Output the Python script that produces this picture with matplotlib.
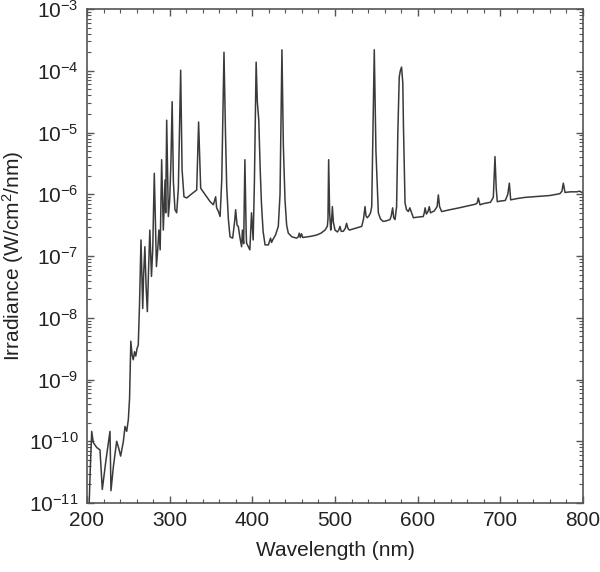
import numpy as np
import matplotlib
matplotlib.use('Agg')
import matplotlib.pyplot as plt
from matplotlib.ticker import LogLocator, MultipleLocator, FixedLocator

plt.rcParams['font.family'] = ['Liberation Sans', 'DejaVu Sans']
plt.rcParams['mathtext.fontset'] = 'custom'
plt.rcParams['mathtext.rm'] = 'Liberation Sans'
plt.rcParams['mathtext.it'] = 'Liberation Sans:italic'

# spectrum: wavelength (nm), log10 irradiance (W/cm2/nm)
wavelength = [
    202.0, 203.8, 205.7, 207.6, 211.7, 215.7, 218.5, 223.0, 227.8, 229.0,
    232.0, 235.9, 238.5, 240.7, 244.0, 246.0, 248.0, 250.0, 251.5, 253.0,
    254.5, 256.0, 257.5, 259.0, 260.5, 262.0, 263.5, 265.3, 267.4, 268.5,
    270.0, 271.5, 273.0, 274.5, 276.0, 278.0, 279.5, 281.4, 283.0, 284.0,
    285.5, 287.0, 288.5, 290.3, 292.3, 294.4, 295.2, 296.4, 298.4, 300.0,
    301.5, 303.0, 304.5, 306.4, 308.5, 310.5, 313.3, 315.0, 317.3, 320.6,
    326.0, 332.7, 335.0, 337.5, 340.0, 344.7, 349.0, 352.8, 355.6, 356.8,
    359.0, 361.0, 363.0, 365.7, 367.5, 369.0, 371.0, 373.0, 376.2, 378.5,
    379.8, 381.5, 383.0, 385.0, 387.0, 388.0, 389.5, 391.0, 392.5, 393.0,
    396.0, 397.0, 399.0, 401.0, 402.5, 404.6, 406.0, 407.8, 409.5, 411.0,
    413.0, 415.4, 419.4, 422.0, 423.3, 424.6, 428.0, 431.4, 433.5, 435.8,
    437.5, 439.5, 441.5, 443.5, 448.0, 453.6, 455.5, 456.8, 458.0, 459.5,
    461.0, 465.7, 471.0, 477.8, 483.0, 487.9, 490.7, 491.5, 492.3, 493.5,
    494.8, 495.8, 496.8, 498.0, 500.0, 502.8, 504.5, 506.0, 507.5, 510.0,
    512.5, 514.0, 515.5, 517.3, 525.0, 532.3, 534.5, 536.3, 537.5, 539.0,
    541.0, 543.0, 544.4, 547.5, 549.5, 552.4, 555.0, 558.4, 562.0, 566.5,
    568.0, 569.7, 571.0, 572.6, 574.5, 576.0, 577.7, 579.0, 580.5, 582.0,
    582.8, 584.7, 586.5, 588.7, 590.5, 592.7, 594.8, 600.0, 606.8, 608.0,
    609.0, 610.5, 612.5, 614.0, 615.5, 620.0, 623.5, 625.0, 626.5, 629.0,
    639.0, 650.0, 660.0, 670.0, 672.0, 673.3, 674.5, 675.4, 680.0, 688.0,
    691.5, 693.5, 695.0, 696.3, 700.0, 706.0, 709.0, 710.9, 712.5, 720.0,
    730.0, 740.0, 750.0, 760.0, 764.0, 772.0, 774.5, 776.2, 778.2, 785.0,
    792.3, 796.0, 800.0,
]
log_irradiance = [
    -11.3, -10.5, -9.84, -10.02, -10.10, -10.14, -10.78, -10.3, -9.84, -10.80,
    -10.4, -10.0, -10.12, -10.24, -10.0, -9.76, -9.84, -9.65, -9.3, -8.38,
    -8.6, -8.68, -8.55, -8.62, -8.50, -8.44, -7.8, -6.74, -7.85, -7.3,
    -6.85, -7.5, -7.90, -7.2, -6.58, -7.33, -6.9, -5.66, -6.6, -7.17,
    -6.9, -6.58, -6.9, -5.44, -6.58, -5.77, -6.3, -4.80, -6.36, -6.1,
    -5.5, -4.50, -5.8, -6.25, -6.3, -5.9, -3.99, -5.6, -6.04, -6.06,
    -6.0, -5.93, -4.83, -5.90, -5.95, -6.04, -6.12, -6.17, -6.04, -6.22,
    -6.28, -6.36, -5.77, -3.70, -5.0, -5.88, -6.4, -6.69, -6.71, -6.45,
    -6.25, -6.5, -6.52, -6.7, -6.85, -6.58, -6.8, -5.44, -6.6, -6.79,
    -6.87, -6.9, -6.30, -6.74, -5.8, -3.86, -4.5, -4.8, -5.6, -6.14,
    -6.6, -6.82, -6.82, -6.71, -6.78, -6.74, -6.66, -6.52, -6.0, -3.66,
    -5.2, -6.09, -6.5, -6.63, -6.69, -6.71, -6.69, -6.63, -6.70, -6.64,
    -6.70, -6.69, -6.68, -6.66, -6.63, -6.58, -6.52, -6.4, -5.44, -6.3,
    -6.58, -6.45, -6.20, -6.45, -6.58, -6.61, -6.58, -6.52, -6.6, -6.60,
    -6.55, -6.47, -6.55, -6.58, -6.55, -6.52, -6.4, -6.20, -6.35, -6.38,
    -6.35, -6.3, -6.20, -3.66, -5.3, -6.30, -6.4, -6.44, -6.43, -6.41,
    -6.35, -6.22, -6.38, -6.41, -6.2, -5.0, -4.10, -4.0, -3.94, -4.2,
    -4.9, -6.14, -6.25, -6.28, -6.22, -6.30, -6.38, -6.37, -6.36, -6.30,
    -6.22, -6.32, -6.28, -6.20, -6.30, -6.27, -6.20, -6.01, -6.20, -6.28,
    -6.25, -6.22, -6.19, -6.16, -6.14, -6.06, -6.12, -6.17, -6.15, -6.13,
    -6.05, -5.39, -5.9, -6.12, -6.11, -6.10, -6.0, -5.82, -6.09, -6.07,
    -6.05, -6.04, -6.03, -6.02, -6.01, -5.99, -5.95, -5.82, -5.97, -5.96,
    -5.96, -5.95, -5.98,
]

x_ticks = [200, 300, 400, 500, 600, 700, 800]
y_exponents = [-11, -10, -9, -8, -7, -6, -5, -4, -3]

fig = plt.figure(figsize=(6.0, 5.72), dpi=100)
ax = fig.add_axes([0.145, 0.1206, 0.8267, 0.8636])

irr = 10.0 ** np.array(log_irradiance)
ax.plot(wavelength, irr, color='#3a3a3a', lw=1.1)

ax.set_yscale('log')
ax.set_xlim(200, 800)
ax.set_ylim(1e-11, 1e-3)

ax.xaxis.set_major_locator(FixedLocator(x_ticks))
ax.xaxis.set_minor_locator(MultipleLocator(20))
ax.set_xticklabels([str(t) for t in x_ticks])
ax.yaxis.set_major_locator(FixedLocator([10.0 ** e for e in y_exponents]))
ax.yaxis.set_minor_locator(LogLocator(base=10, subs=np.arange(2, 10), numticks=20))
ax.set_yticklabels([r'$10^{%d}$' % e for e in y_exponents])
ax.yaxis.set_minor_formatter(plt.NullFormatter())

ax.tick_params(which='both', direction='in', top=True, right=True,
               color='#555555', labelsize=15, labelcolor='#222222')
ax.tick_params(which='major', length=5, width=1.0, pad=6)
ax.tick_params(which='minor', length=3, width=0.8)
for s in ax.spines.values():
    s.set_color('#555555')
    s.set_linewidth(1.2)

ax.set_xlabel('Wavelength (nm)', fontsize=15, color='#222222', labelpad=8)
ax.set_ylabel(r'Irradiance (W/cm$^2$/nm)', fontsize=15, color='#222222')
ax.yaxis.set_label_coords(-0.122, 0.5)

fig.savefig('out.png', dpi=100)
